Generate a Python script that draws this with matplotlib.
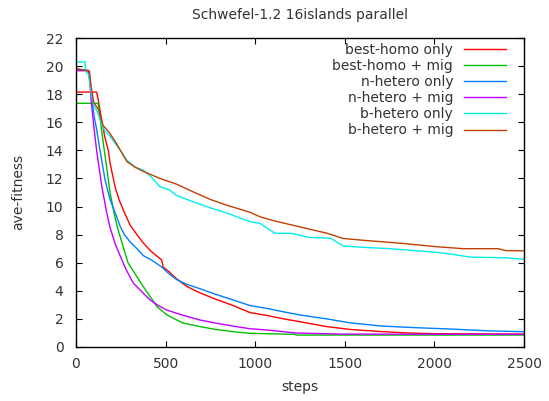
import matplotlib
matplotlib.use("Agg")
import matplotlib.pyplot as plt

plt.rcParams['font.family'] = ['DejaVu Sans']

# average fitness per step for each island setup
best_homo_only_steps = [0, 115, 124, 143, 160, 180, 190, 218, 240, 264, 301, 340, 376, 420, 478, 486, 520, 562, 620, 692,
                        780, 877, 971, 1064, 1160, 1250, 1400, 1530, 1700, 1850, 1975, 2200, 2500]
best_homo_only = [18.15, 18.15, 17.6, 16.2, 15.0, 14.0, 13.1, 11.4, 10.5, 9.75, 8.7, 8.0, 7.4, 6.8, 6.2, 5.7, 5.35, 4.85, 4.3, 3.85,
                  3.4, 2.95, 2.45, 2.25, 2.0, 1.8, 1.45, 1.25, 1.1, 1.0, 0.95, 0.93, 0.92]

best_homo_mig_steps = [0, 123, 130, 143, 160, 171, 190, 218, 236, 264, 290, 320, 370, 413, 450, 506, 550, 598, 692, 780,
                       877, 971, 1064, 1222, 1230, 2500]
best_homo_mig = [17.35, 17.35, 16.8, 15.4, 13.8, 12.8, 11.0, 9.2, 8.3, 7.1, 6.0, 5.4, 4.4, 3.6, 2.9, 2.3, 2.0, 1.7, 1.45, 1.25,
                 1.09, 0.97, 0.95, 0.9, 0.85, 0.85]

n_hetero_only_steps = [0, 70, 85, 100, 115, 134, 162, 190, 220, 246, 270, 301, 340, 376, 420, 478, 520, 562, 620, 692,
                       780, 877, 971, 1064, 1160, 1250, 1400, 1530, 1700, 1850, 2090, 2300, 2500]
n_hetero_only = [19.8, 19.7, 18.2, 16.5, 15.5, 14.0, 11.9, 10.5, 9.5, 8.6, 8.0, 7.5, 7.0, 6.5, 6.2, 5.7, 5.2, 4.8, 4.45, 4.15,
                 3.75, 3.35, 2.95, 2.75, 2.5, 2.28, 2.0, 1.72, 1.5, 1.4, 1.28, 1.15, 1.09]

n_hetero_mig_steps = [0, 68, 75, 85, 97, 115, 143, 171, 190, 220, 246, 280, 320, 370, 413, 460, 506, 600, 692, 780,
                      877, 971, 1064, 1150, 1222, 1473, 2500]
n_hetero_mig = [19.67, 19.67, 19.2, 17.5, 16.0, 14.0, 11.5, 9.6, 8.5, 7.3, 6.5, 5.5, 4.55, 3.9, 3.35, 2.95, 2.63, 2.25, 1.92, 1.7,
                1.49, 1.3, 1.21, 1.1, 1.0, 0.92, 0.9]

b_hetero_only_steps = [0, 50, 55, 70, 85, 100, 120, 140, 160, 190, 230, 284, 330, 375, 420, 469, 520, 560, 653, 750,
                       841, 971, 1027, 1110, 1205, 1300, 1420, 1490, 1600, 1750, 2013, 2100, 2200, 2400, 2500]
b_hetero_only = [20.3, 20.3, 19.6, 19.4, 18.0, 17.2, 16.7, 16.0, 15.4, 15.0, 14.3, 13.3, 12.8, 12.6, 12.1, 11.4, 11.2, 10.8, 10.34, 9.9,
                 9.54, 8.92, 8.8, 8.1, 8.09, 7.8, 7.75, 7.19, 7.1, 7.0, 6.74, 6.6, 6.4, 6.35, 6.25]

b_hetero_mig_steps = [0, 75, 85, 100, 125, 150, 190, 230, 284, 330, 375, 469, 560, 653, 750, 841, 971, 1027, 1100, 1200,
                      1300, 1400, 1490, 1600, 1800, 2013, 2160, 2355, 2400, 2500]
b_hetero_mig = [19.8, 19.65, 18.5, 17.4, 16.9, 15.8, 15.2, 14.4, 13.2, 12.8, 12.5, 12.0, 11.6, 11.05, 10.5, 10.1, 9.59, 9.27, 9.0, 8.7,
                8.4, 8.1, 7.73, 7.6, 7.4, 7.14, 7.0, 7.0, 6.86, 6.85]

series = [
    ("best-homo only", best_homo_only_steps, best_homo_only, "#ff0000"),
    ("best-homo + mig", best_homo_mig_steps, best_homo_mig, "#00c000"),
    ("n-hetero only", n_hetero_only_steps, n_hetero_only, "#0080ff"),
    ("n-hetero + mig", n_hetero_mig_steps, n_hetero_mig, "#c000ff"),
    ("b-hetero only", b_hetero_only_steps, b_hetero_only, "#00eeee"),
    ("b-hetero + mig", b_hetero_mig_steps, b_hetero_mig, "#c04000"),
]

W, H = 549, 401
fig = plt.figure(figsize=(W / 100, H / 100), dpi=100)
ax = fig.add_axes([76 / W, 1 - 347 / H, (524 - 76) / W, (347 - 38) / H])

for label, x, y, color in series:
    ax.plot(x, y, color=color, lw=1.0, label=label)

ax.set_xlim(0, 2500)
ax.set_ylim(0, 22)
ax.set_xticks(range(0, 2501, 500))
ax.set_yticks(range(0, 23, 2))
ax.tick_params(direction='in', top=True, right=True, length=4, width=0.8,
               labelsize=10, labelcolor='#333333')
ax.tick_params(axis='y', pad=9)
ax.tick_params(axis='x', pad=7)
for s in ax.spines.values():
    s.set_linewidth(1.0)

fig.text(300 / W, 1 - 15 / H, "Schwefel-1.2 16islands parallel", ha='center', va='center',
         fontsize=10, color='#333333')
fig.text(300 / W, 1 - 387 / H, "steps", ha='center', va='center', fontsize=10, color='#333333')
fig.text(18 / W, 1 - 192 / H, "ave-fitness", ha='center', va='center', rotation=90,
         fontsize=10, color='#333333')

# key sits inside the upper right corner, text before the line sample
ax.legend(loc='upper right', bbox_to_anchor=(506 / W, 1 - 43 / H), bbox_transform=fig.transFigure,
          frameon=False, markerfirst=False, fontsize=10, labelspacing=0.15, handlelength=3.0,
          handletextpad=0.8, borderpad=0, borderaxespad=0, labelcolor='#333333')

fig.savefig("out.png", dpi=100)
